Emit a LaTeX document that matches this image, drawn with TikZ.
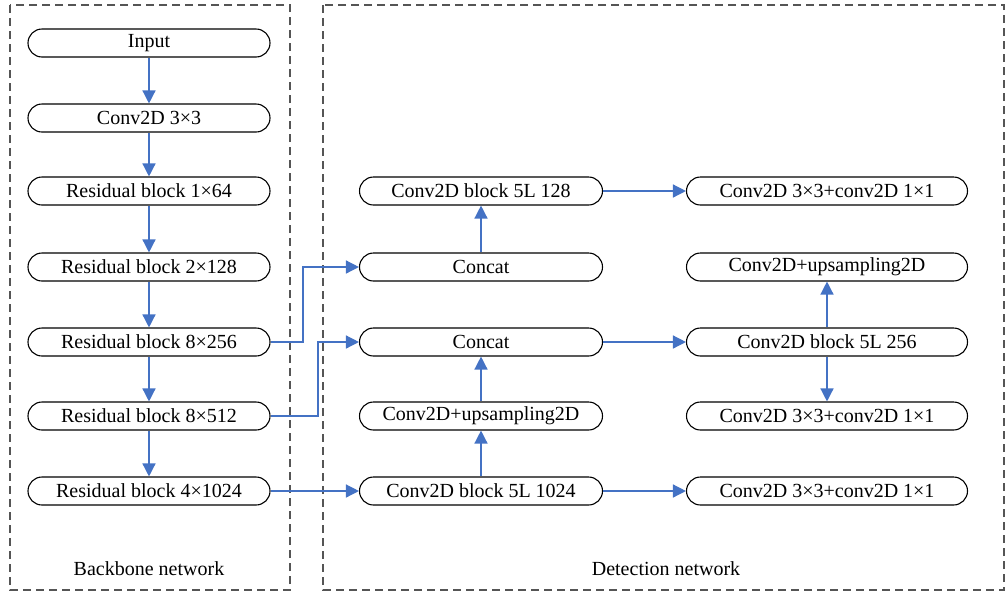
\documentclass[tikz,border=0pt]{standalone}
\usepackage{fontspec}
\setmainfont{Liberation Serif}
\usetikzlibrary{arrows.meta}
\definecolor{flow}{HTML}{4472C4}
\definecolor{frame}{HTML}{555555}
\begin{document}
\begin{tikzpicture}[x=1pt,y=-1pt,
  block/.style={draw=black, line width=1.1pt, rounded corners=14pt,
    minimum height=28pt, inner sep=0pt, font=\fontsize{20}{23}\selectfont},
  lblock/.style={block, minimum width=242pt},
  mblock/.style={block, minimum width=243pt},
  rblock/.style={block, minimum width=281pt},
  link/.style={draw=flow, line width=1.4pt,
    -{Triangle[length=13pt,width=13pt]}},
  group/.style={draw=frame, line width=1.2pt, dash pattern=on 8pt off 5pt},
  caption/.style={font=\fontsize{20}{23}\selectfont}]
\useasboundingbox (0,0) rectangle (1006,595);

% dashed group frames
\draw[group] (10,5) rectangle (290,590);
\draw[group] (323,5) rectangle (1004,590);
\node[caption] (bbcap) at (149,569) {Backbone network};
\node[caption] (dncap) at (666,569) {Detection network};

% backbone
\node[lblock] (in)  at (149,43)  {Input};
\node[lblock] (c33) at (149,118) {Conv2D 3×3};
\node[lblock] (r1)  at (149,191) {Residual block 1×64};
\node[lblock] (r2)  at (149,267) {Residual block 2×128};
\node[lblock] (r8a) at (149,342) {Residual block 8×256};
\node[lblock] (r8b) at (149,416) {Residual block 8×512};
\node[lblock] (r4)  at (149,491) {Residual block 4×1024};

% detection, middle column
\node[mblock] (m128) at (481,191) {Conv2D block 5L 128};
\node[mblock] (cat1) at (481,267) {Concat};
\node[mblock] (cat2) at (481,342) {Concat};
\node[mblock] (up1)  at (481,416) {Conv2D+upsampling2D};
\node[mblock] (m1024) at (481,491) {Conv2D block 5L 1024};

% detection, right column
\node[rblock] (o1)   at (827,191) {Conv2D 3×3+conv2D 1×1};
\node[rblock] (up2)  at (827,267) {Conv2D+upsampling2D};
\node[rblock] (m256) at (827,342) {Conv2D block 5L 256};
\node[rblock] (o2)   at (827,416) {Conv2D 3×3+conv2D 1×1};
\node[rblock] (o3)   at (827,491) {Conv2D 3×3+conv2D 1×1};

% backbone chain
\draw[link] (in) -- (c33);
\draw[link] (c33) -- (r1);
\draw[link] (r1) -- (r2);
\draw[link] (r2) -- (r8a);
\draw[link] (r8a) -- (r8b);
\draw[link] (r8b) -- (r4);

% routes into the detection network
\coordinate (k1) at (303,0);
\coordinate (k2) at (318,0);
\draw[link] (r8a.east) -| (k1 |- r8a.east) |- (cat1.west);
\draw[link] (r8b.east) -| (k2 |- r8b.east) |- (cat2.west);
\draw[link] (r4) -- (m1024);

% middle column
\draw[link] (m1024) -- (up1);
\draw[link] (up1) -- (cat2);
\draw[link] (cat1) -- (m128);

% outputs
\draw[link] (m128) -- (o1);
\draw[link] (cat2) -- (m256);
\draw[link] (m1024) -- (o3);
\draw[link] (m256) -- (up2);
\draw[link] (m256) -- (o2);
\end{tikzpicture}
\end{document}
